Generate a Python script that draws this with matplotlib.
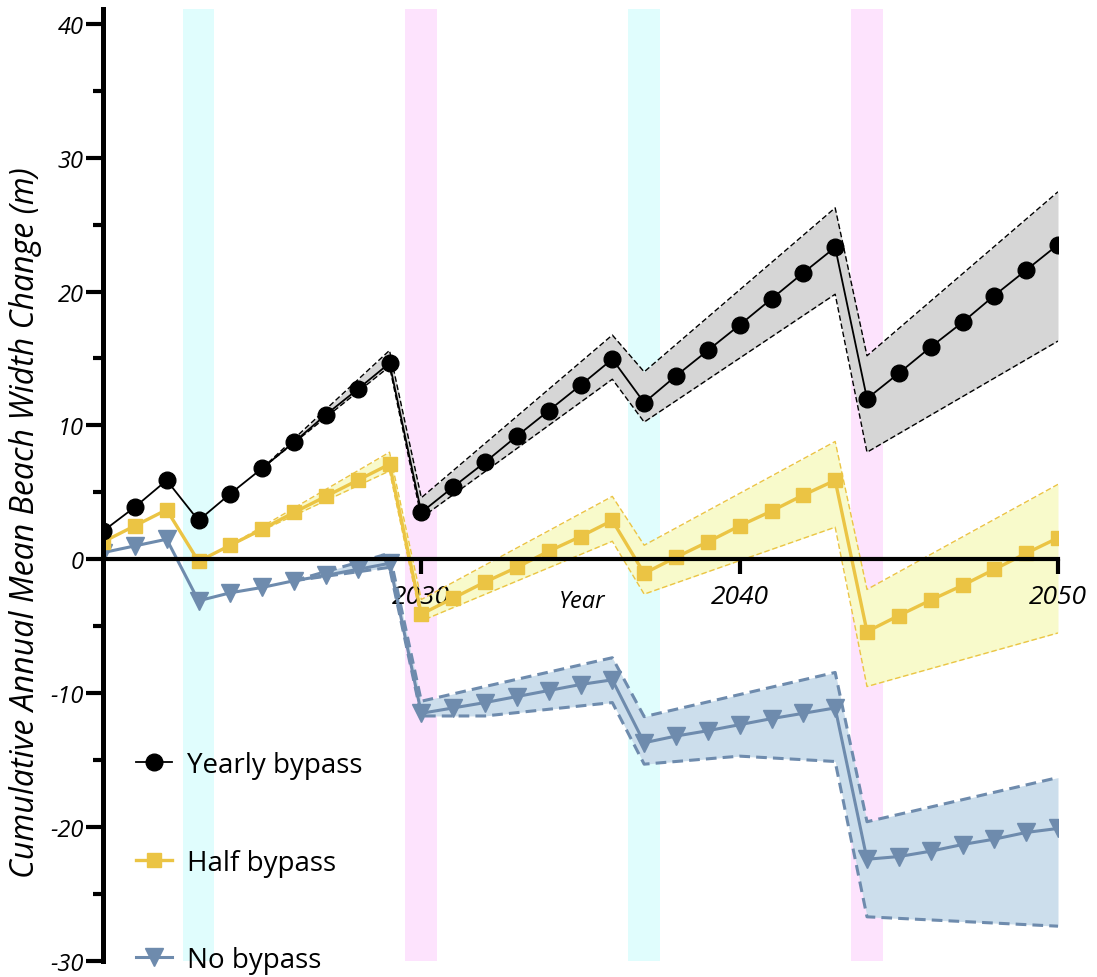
import numpy as np
import matplotlib
matplotlib.use("agg")
import matplotlib.pyplot as plt
from matplotlib.ticker import MultipleLocator
from matplotlib.lines import Line2D

plt.rcParams["font.family"] = ["Open Sans", "DejaVu Sans"]

years = np.arange(2020, 2051)

yearly = [2.1, 3.9, 5.9, 2.9, 4.9, 6.8, 8.75, 10.8, 12.7, 14.65,
          3.5, 5.4, 7.25, 9.2, 11.1, 13.0, 14.95,
          11.7, 13.7, 15.6, 17.5, 19.45, 21.4, 23.3,
          12.0, 13.9, 15.85, 17.7, 19.7, 21.6, 23.5]
half = [1.3, 2.5, 3.7, -0.15, 1.05, 2.25, 3.5, 4.7, 5.9, 7.1,
        -4.1, -2.9, -1.7, -0.6, 0.6, 1.7, 2.9,
        -1.05, 0.15, 1.3, 2.5, 3.6, 4.8, 5.9,
        -5.4, -4.2, -3.05, -1.95, -0.75, 0.45, 1.6]
none = [0.5, 1.0, 1.5, -3.1, -2.5, -2.1, -1.6, -1.2, -0.75, -0.3,
        -11.5, -11.1, -10.7, -10.25, -9.8, -9.35, -9.0,
        -13.7, -13.2, -12.8, -12.35, -11.9, -11.5, -11.1,
        -22.4, -22.2, -21.8, -21.3, -20.9, -20.4, -20.1]

# uncertainty envelopes, given at their corner years
yearly_band_x = [2025, 2029, 2030, 2036, 2037, 2043, 2044, 2050]
yearly_hi = [6.8, 15.6, 4.6, 16.75, 14.0, 26.25, 15.2, 27.45]
yearly_lo = [6.8, 14.4, 3.1, 13.45, 10.25, 19.8, 8.0, 16.3]

half_band_x = [2024, 2029, 2030, 2036, 2037, 2043, 2044, 2050]
half_hi = [1.05, 8.0, -3.0, 4.7, 1.05, 8.8, -2.25, 5.6]
half_lo = [1.05, 6.6, -4.6, 1.35, -2.6, 2.4, -9.5, -5.5]

none_band_x = [2026, 2029, 2030, 2032, 2036, 2037, 2040, 2043, 2044, 2050]
none_hi = [-1.6, 0.45, -10.6, -9.5, -7.35, -11.75, -10.1, -8.45, -19.6, -16.3]
none_lo = [-1.6, -0.6, -11.7, -11.7, -10.7, -15.3, -14.7, -15.1, -26.7, -27.4]

# years with a bypass event (cyan) and a storm year (pink)
cyan_years = [2023, 2037]
pink_years = [2030, 2044]

C_YEAR = "black"
C_HALF = "#EBC444"
C_NONE = "#6E8BAD"

fig = plt.figure(figsize=(10.97, 9.78), dpi=100)
ax = fig.add_axes([103 / 1097, 16 / 978, 955 / 1097, 952 / 978])

for y in cyan_years:
    ax.axvspan(y - 0.5, y + 0.5, color="#E0FDFD", lw=0, zorder=0)
for y in pink_years:
    ax.axvspan(y - 0.5, y + 0.5, color="#FDE3FD", lw=0, zorder=0)

ax.fill_between(yearly_band_x, yearly_lo, yearly_hi, color="#D6D6D6", lw=0, zorder=1)
ax.fill_between(half_band_x, half_lo, half_hi, color="#F8FACB", lw=0, zorder=1)
ax.fill_between(none_band_x, none_lo, none_hi, color="#CCDEEC", lw=0, zorder=1)

for xs, ys in [(yearly_band_x, yearly_hi), (yearly_band_x, yearly_lo)]:
    ax.plot(xs, ys, color=C_YEAR, lw=1.0, ls=(0, (4, 2)), zorder=2)
for xs, ys in [(half_band_x, half_hi), (half_band_x, half_lo)]:
    ax.plot(xs, ys, color=C_HALF, lw=1.0, ls=(0, (4, 2)), zorder=2)
for xs, ys in [(none_band_x, none_hi), (none_band_x, none_lo)]:
    ax.plot(xs, ys, color=C_NONE, lw=2.2, ls=(0, (3.5, 2)), zorder=2)

ax.plot(years, none, color=C_NONE, lw=2.2, marker="v", ms=13, zorder=3)
ax.plot(years, half, color=C_HALF, lw=2.4, marker="s", ms=10, zorder=4)
ax.plot(years, yearly, color=C_YEAR, lw=1.3, marker="o", ms=12, zorder=5)

ax.set_xlim(2020, 2050)
ax.set_ylim(-30, 41.1)

for s in ["top", "right"]:
    ax.spines[s].set_visible(False)
ax.spines["left"].set_linewidth(3.6)
ax.spines["left"].set_position(("data", 2020))
ax.spines["bottom"].set_position(("data", 0))
ax.spines["bottom"].set_linewidth(3.0)
ax.spines["left"].set_zorder(6)
ax.spines["bottom"].set_zorder(6)

ax.set_xticks([2030, 2040, 2050])
ax.set_xticklabels(["2030", "2040", "2050"], fontstyle="italic", fontsize=19)
ax.tick_params(axis="x", direction="out", length=11, width=3, pad=7)

ax.set_yticks([-30, -20, -10, 0, 10, 20, 30, 40])
ax.yaxis.set_minor_locator(MultipleLocator(5))
ax.set_yticklabels(["-30", "-20", "-10", "0", "10", "20", "30", "40"],
                   fontstyle="italic", fontsize=17)
ax.tick_params(axis="y", which="major", direction="out", length=12, width=3, pad=2)
ax.tick_params(axis="y", which="minor", direction="out", length=7.5, width=3)

ax.set_xlabel("Year", fontstyle="italic", fontsize=17)
ax.xaxis.set_label_coords(0.5016, 0.391)
ax.set_ylabel("Cumulative Annual Mean Beach Width Change (m)",
              fontstyle="italic", fontsize=23)
ax.yaxis.set_label_coords(-0.064, 0.462)

handles = [
    Line2D([], [], color=C_YEAR, lw=1.3, marker="o", ms=12),
    Line2D([], [], color=C_HALF, lw=2.4, marker="s", ms=10),
    Line2D([], [], color=C_NONE, lw=2.2, marker="v", ms=13),
]
ax.legend(handles, ["Yearly bypass", "Half bypass", "No bypass"],
          loc="lower left", bbox_to_anchor=(0.008, -0.04), frameon=False,
          fontsize=20, handlelength=1.3, handletextpad=0.55, labelspacing=2.5)

fig.savefig("out.png", dpi=100)
